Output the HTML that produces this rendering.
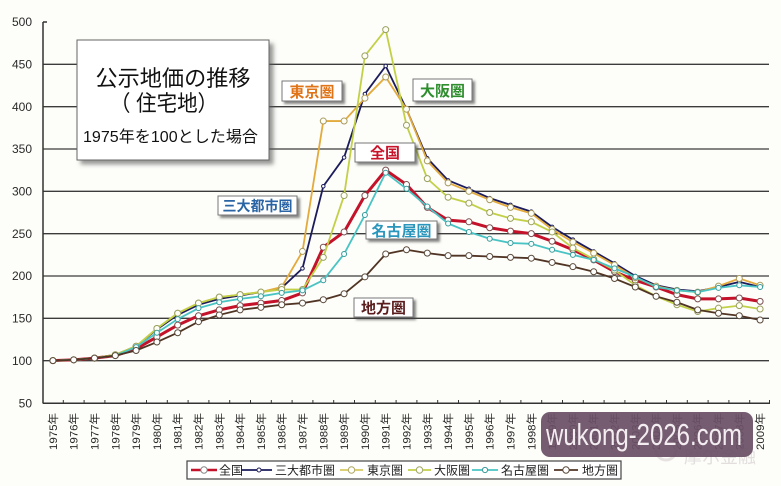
<!DOCTYPE html>
<html><head><meta charset="utf-8">
<style>
html,body{margin:0;padding:0;background:#fdfdf9;}
svg{display:block;font-family:"Liberation Sans","Noto Sans CJK JP",sans-serif;}
</style></head>
<body>
<svg width="781" height="486" viewBox="0 0 781 486" xmlns="http://www.w3.org/2000/svg">
<defs>
<filter id="sh" x="-20%" y="-20%" width="150%" height="160%"><feDropShadow dx="2.5" dy="2.5" stdDeviation="1.2" flood-color="#444" flood-opacity="0.65"/></filter>
<filter id="sh2" x="-10%" y="-10%" width="130%" height="130%"><feDropShadow dx="4" dy="4" stdDeviation="2" flood-color="#555" flood-opacity="0.6"/></filter>
</defs>
<rect width="781" height="486" fill="#fdfdf9"/>

<!-- gridlines -->
<g stroke="#3c3c3c" stroke-width="1.3">
<line x1="43" y1="64.3" x2="769" y2="64.3"/>
<line x1="43" y1="106.7" x2="769" y2="106.7"/>
<line x1="43" y1="149" x2="769" y2="149"/>
<line x1="43" y1="191.3" x2="769" y2="191.3"/>
<line x1="43" y1="233.7" x2="769" y2="233.7"/>
<line x1="43" y1="276" x2="769" y2="276"/>
<line x1="43" y1="318.3" x2="769" y2="318.3"/>
<line x1="43" y1="360.7" x2="769" y2="360.7"/>
</g>
<!-- axes -->
<g stroke="#333" stroke-width="1.5">
<line x1="43" y1="22" x2="43" y2="403.5"/>
<line x1="43" y1="403.3" x2="770" y2="403.3"/>
<line x1="43" y1="22" x2="47" y2="22"/>
</g>
<g stroke="#333" stroke-width="1">
<path d="M63.3 400v4M84.1 400v4M104.9 400v4M125.7 400v4M146.5 400v4M167.3 400v4M188.1 400v4M208.9 400v4M229.7 400v4M250.5 400v4M271.3 400v4M292.1 400v4M312.9 400v4M333.7 400v4M354.5 400v4M375.3 400v4M396.1 400v4M416.9 400v4M437.7 400v4M458.5 400v4M479.3 400v4M500.1 400v4M520.9 400v4M541.7 400v4M562.5 400v4M583.3 400v4M604.1 400v4M624.9 400v4M645.7 400v4M666.5 400v4M687.3 400v4M708.1 400v4M728.9 400v4M749.7 400v4M769.5 400v4"/>
</g>

<!-- y labels -->
<g font-size="12" fill="#2a2a2a" text-anchor="end">
<text x="32" y="26">500</text>
<text x="32" y="68.5">450</text>
<text x="32" y="111">400</text>
<text x="32" y="153">350</text>
<text x="32" y="195.5">300</text>
<text x="32" y="238">250</text>
<text x="32" y="280">200</text>
<text x="32" y="322.5">150</text>
<text x="32" y="365">100</text>
<text x="32" y="407.5">50</text>
</g>

<!-- x labels -->
<g font-size="11" fill="#2a2a2a">
<text transform="translate(56.9,450) rotate(-90)" textLength="37" lengthAdjust="spacingAndGlyphs">1975年</text>
<text transform="translate(77.7,450) rotate(-90)" textLength="37" lengthAdjust="spacingAndGlyphs">1976年</text>
<text transform="translate(98.5,450) rotate(-90)" textLength="37" lengthAdjust="spacingAndGlyphs">1977年</text>
<text transform="translate(119.3,450) rotate(-90)" textLength="37" lengthAdjust="spacingAndGlyphs">1978年</text>
<text transform="translate(140.1,450) rotate(-90)" textLength="37" lengthAdjust="spacingAndGlyphs">1979年</text>
<text transform="translate(160.9,450) rotate(-90)" textLength="37" lengthAdjust="spacingAndGlyphs">1980年</text>
<text transform="translate(181.7,450) rotate(-90)" textLength="37" lengthAdjust="spacingAndGlyphs">1981年</text>
<text transform="translate(202.5,450) rotate(-90)" textLength="37" lengthAdjust="spacingAndGlyphs">1982年</text>
<text transform="translate(223.3,450) rotate(-90)" textLength="37" lengthAdjust="spacingAndGlyphs">1983年</text>
<text transform="translate(244.1,450) rotate(-90)" textLength="37" lengthAdjust="spacingAndGlyphs">1984年</text>
<text transform="translate(264.9,450) rotate(-90)" textLength="37" lengthAdjust="spacingAndGlyphs">1985年</text>
<text transform="translate(285.7,450) rotate(-90)" textLength="37" lengthAdjust="spacingAndGlyphs">1986年</text>
<text transform="translate(306.5,450) rotate(-90)" textLength="37" lengthAdjust="spacingAndGlyphs">1987年</text>
<text transform="translate(327.3,450) rotate(-90)" textLength="37" lengthAdjust="spacingAndGlyphs">1988年</text>
<text transform="translate(348.1,450) rotate(-90)" textLength="37" lengthAdjust="spacingAndGlyphs">1989年</text>
<text transform="translate(368.9,450) rotate(-90)" textLength="37" lengthAdjust="spacingAndGlyphs">1990年</text>
<text transform="translate(389.7,450) rotate(-90)" textLength="37" lengthAdjust="spacingAndGlyphs">1991年</text>
<text transform="translate(410.5,450) rotate(-90)" textLength="37" lengthAdjust="spacingAndGlyphs">1992年</text>
<text transform="translate(431.3,450) rotate(-90)" textLength="37" lengthAdjust="spacingAndGlyphs">1993年</text>
<text transform="translate(452.1,450) rotate(-90)" textLength="37" lengthAdjust="spacingAndGlyphs">1994年</text>
<text transform="translate(472.9,450) rotate(-90)" textLength="37" lengthAdjust="spacingAndGlyphs">1995年</text>
<text transform="translate(493.7,450) rotate(-90)" textLength="37" lengthAdjust="spacingAndGlyphs">1996年</text>
<text transform="translate(514.5,450) rotate(-90)" textLength="37" lengthAdjust="spacingAndGlyphs">1997年</text>
<text transform="translate(535.3,450) rotate(-90)" textLength="37" lengthAdjust="spacingAndGlyphs">1998年</text>
<text transform="translate(556.1,450) rotate(-90)" textLength="37" lengthAdjust="spacingAndGlyphs">1999年</text>
<text transform="translate(576.9,450) rotate(-90)" textLength="37" lengthAdjust="spacingAndGlyphs">2000年</text>
<text transform="translate(597.7,450) rotate(-90)" textLength="37" lengthAdjust="spacingAndGlyphs">2001年</text>
<text transform="translate(618.5,450) rotate(-90)" textLength="37" lengthAdjust="spacingAndGlyphs">2002年</text>
<text transform="translate(639.3,450) rotate(-90)" textLength="37" lengthAdjust="spacingAndGlyphs">2003年</text>
<text transform="translate(660.1,450) rotate(-90)" textLength="37" lengthAdjust="spacingAndGlyphs">2004年</text>
<text transform="translate(680.9,450) rotate(-90)" textLength="37" lengthAdjust="spacingAndGlyphs">2005年</text>
<text transform="translate(701.7,450) rotate(-90)" textLength="37" lengthAdjust="spacingAndGlyphs">2006年</text>
<text transform="translate(722.5,450) rotate(-90)" textLength="37" lengthAdjust="spacingAndGlyphs">2007年</text>
<text transform="translate(743.3,450) rotate(-90)" textLength="37" lengthAdjust="spacingAndGlyphs">2008年</text>
<text transform="translate(764.1,450) rotate(-90)" textLength="37" lengthAdjust="spacingAndGlyphs">2009年</text>
</g>

<!-- series (data coordinates: x = year index, y = index value) -->
<g transform="matrix(20.8 0 0 -0.8467 52.9 445.33)" fill="none" stroke-linejoin="round">
<!-- 全国 -->
<polyline vector-effect="non-scaling-stroke" stroke="#c4122a" stroke-width="3" points="0,100 1,101 2,103 3,106 4,114 5,128 6,142 7,153 8,160 9,165 10,168 11,171 12,180 13,234 14,252 15,295 16,325 17,308 18,281 19,266 20,264 21,257 22,253 23,250 24,241 25,231 26,219 27,205 28,195 29,187 30,178 31,173 32,173 33,174 34,170"/>
<path vector-effect="non-scaling-stroke" stroke="#7a5050" stroke-width="7" stroke-linecap="round" d="M0 100h0M1 101h0M2 103h0M3 106h0M4 114h0M5 128h0M6 142h0M7 153h0M8 160h0M9 165h0M10 168h0M11 171h0M12 180h0M13 234h0M14 252h0M15 295h0M16 325h0M17 308h0M18 281h0M19 266h0M20 264h0M21 257h0M22 253h0M23 250h0M24 241h0M25 231h0M26 219h0M27 205h0M28 195h0M29 187h0M30 178h0M31 173h0M32 173h0M33 174h0M34 170h0"/>
<path vector-effect="non-scaling-stroke" stroke="#ffffff" stroke-width="5" stroke-linecap="round" d="M0 100h0M1 101h0M2 103h0M3 106h0M4 114h0M5 128h0M6 142h0M7 153h0M8 160h0M9 165h0M10 168h0M11 171h0M12 180h0M13 234h0M14 252h0M15 295h0M16 325h0M17 308h0M18 281h0M19 266h0M20 264h0M21 257h0M22 253h0M23 250h0M24 241h0M25 231h0M26 219h0M27 205h0M28 195h0M29 187h0M30 178h0M31 173h0M32 173h0M33 174h0M34 170h0"/>

<!-- 三大都市圏 -->
<polyline vector-effect="non-scaling-stroke" stroke="#1c1c5c" stroke-width="1.8" points="0,100 1,101 2,103 3,107 4,117 5,137 6,154 7,166 8,173 9,177 10,181 11,186 12,209 13,306 14,340 15,415 16,448 17,397 18,339 19,313 20,303 21,292 22,284 23,276 24,258 25,243 26,229 27,215 28,200 29,189 30,184 31,182 32,187 33,193 34,187"/>
<path vector-effect="non-scaling-stroke" stroke="#1c1c5c" stroke-width="4.5" stroke-linecap="round" d="M0 100h0M1 101h0M2 103h0M3 107h0M4 117h0M5 137h0M6 154h0M7 166h0M8 173h0M9 177h0M10 181h0M11 186h0M12 209h0M13 306h0M14 340h0M15 415h0M16 448h0M17 397h0M18 339h0M19 313h0M20 303h0M21 292h0M22 284h0M23 276h0M24 258h0M25 243h0M26 229h0M27 215h0M28 200h0M29 189h0M30 184h0M31 182h0M32 187h0M33 193h0M34 187h0"/>
<path vector-effect="non-scaling-stroke" stroke="#ffffff" stroke-width="2.5" stroke-linecap="round" d="M0 100h0M1 101h0M2 103h0M3 107h0M4 117h0M5 137h0M6 154h0M7 166h0M8 173h0M9 177h0M10 181h0M11 186h0M12 209h0M13 306h0M14 340h0M15 415h0M16 448h0M17 397h0M18 339h0M19 313h0M20 303h0M21 292h0M22 284h0M23 276h0M24 258h0M25 243h0M26 229h0M27 215h0M28 200h0M29 189h0M30 184h0M31 182h0M32 187h0M33 193h0M34 187h0"/>

<!-- 東京圏 -->
<polyline vector-effect="non-scaling-stroke" stroke="#e3aa3c" stroke-width="1.8" points="0,100 1,101 2,103 3,107 4,117 5,138 6,156 7,168 8,175 9,178 10,181 11,187 12,229 13,383 14,383 15,410 16,435 17,397 18,336 19,310 20,300 21,290 22,281 23,274 24,255 25,240 26,227 27,213 28,198 29,188 30,183 31,181 32,188 33,197 34,189"/>
<path vector-effect="non-scaling-stroke" stroke="#a89a60" stroke-width="7" stroke-linecap="round" d="M0 100h0M1 101h0M2 103h0M3 107h0M4 117h0M5 138h0M6 156h0M7 168h0M8 175h0M9 178h0M10 181h0M11 187h0M12 229h0M13 383h0M14 383h0M15 410h0M16 435h0M17 397h0M18 336h0M19 310h0M20 300h0M21 290h0M22 281h0M23 274h0M24 255h0M25 240h0M26 227h0M27 213h0M28 198h0M29 188h0M30 183h0M31 181h0M32 188h0M33 197h0M34 189h0"/>
<path vector-effect="non-scaling-stroke" stroke="#fffff6" stroke-width="5" stroke-linecap="round" d="M0 100h0M1 101h0M2 103h0M3 107h0M4 117h0M5 138h0M6 156h0M7 168h0M8 175h0M9 178h0M10 181h0M11 187h0M12 229h0M13 383h0M14 383h0M15 410h0M16 435h0M17 397h0M18 336h0M19 310h0M20 300h0M21 290h0M22 281h0M23 274h0M24 255h0M25 240h0M26 227h0M27 213h0M28 198h0M29 188h0M30 183h0M31 181h0M32 188h0M33 197h0M34 189h0"/>

<!-- 大阪圏 -->
<polyline vector-effect="non-scaling-stroke" stroke="#c2d048" stroke-width="1.8" points="0,100 1,101 2,103 3,107 4,117 5,138 6,156 7,168 8,175 9,178 10,181 11,184 12,184 13,222 14,295 15,460 16,491 17,378 18,315 19,293 20,286 21,275 22,268 23,264 24,252 25,233 26,220 27,207 28,189 29,176 30,166 31,158 32,162 33,165 34,161"/>
<path vector-effect="non-scaling-stroke" stroke="#9aa060" stroke-width="7" stroke-linecap="round" d="M0 100h0M1 101h0M2 103h0M3 107h0M4 117h0M5 138h0M6 156h0M7 168h0M8 175h0M9 178h0M10 181h0M11 184h0M12 184h0M13 222h0M14 295h0M15 460h0M16 491h0M17 378h0M18 315h0M19 293h0M20 286h0M21 275h0M22 268h0M23 264h0M24 252h0M25 233h0M26 220h0M27 207h0M28 189h0M29 176h0M30 166h0M31 158h0M32 162h0M33 165h0M34 161h0"/>
<path vector-effect="non-scaling-stroke" stroke="#fffff6" stroke-width="5" stroke-linecap="round" d="M0 100h0M1 101h0M2 103h0M3 107h0M4 117h0M5 138h0M6 156h0M7 168h0M8 175h0M9 178h0M10 181h0M11 184h0M12 184h0M13 222h0M14 295h0M15 460h0M16 491h0M17 378h0M18 315h0M19 293h0M20 286h0M21 275h0M22 268h0M23 264h0M24 252h0M25 233h0M26 220h0M27 207h0M28 189h0M29 176h0M30 166h0M31 158h0M32 162h0M33 165h0M34 161h0"/>

<!-- 名古屋圏 -->
<polyline vector-effect="non-scaling-stroke" stroke="#48c4c4" stroke-width="1.8" points="0,100 1,101 2,103 3,106 4,116 5,133 6,149 7,162 8,169 9,173 10,176 11,180 12,183 13,195 14,226 15,272 16,322 17,303 18,282 19,262 20,252 21,244 22,239 23,238 24,231 25,225 26,219 27,209 28,199 29,187 30,183 31,181 32,186 33,189 34,187"/>
<path vector-effect="non-scaling-stroke" stroke="#3a9a9a" stroke-width="6" stroke-linecap="round" d="M0 100h0M1 101h0M2 103h0M3 106h0M4 116h0M5 133h0M6 149h0M7 162h0M8 169h0M9 173h0M10 176h0M11 180h0M12 183h0M13 195h0M14 226h0M15 272h0M16 322h0M17 303h0M18 282h0M19 262h0M20 252h0M21 244h0M22 239h0M23 238h0M24 231h0M25 225h0M26 219h0M27 209h0M28 199h0M29 187h0M30 183h0M31 181h0M32 186h0M33 189h0M34 187h0"/>
<path vector-effect="non-scaling-stroke" stroke="#f4ffff" stroke-width="4" stroke-linecap="round" d="M0 100h0M1 101h0M2 103h0M3 106h0M4 116h0M5 133h0M6 149h0M7 162h0M8 169h0M9 173h0M10 176h0M11 180h0M12 183h0M13 195h0M14 226h0M15 272h0M16 322h0M17 303h0M18 282h0M19 262h0M20 252h0M21 244h0M22 239h0M23 238h0M24 231h0M25 225h0M26 219h0M27 209h0M28 199h0M29 187h0M30 183h0M31 181h0M32 186h0M33 189h0M34 187h0"/>

<!-- 地方圏 -->
<polyline vector-effect="non-scaling-stroke" stroke="#503424" stroke-width="1.8" points="0,100 1,101 2,103 3,106 4,112 5,122 6,133 7,146 8,154 9,160 10,163 11,166 12,168 13,172 14,179 15,199 16,226 17,231 18,227 19,224 20,224 21,223 22,222 23,221 24,216 25,211 26,205 27,197 28,187 29,176 30,169 31,160 32,156 33,153 34,148"/>
<path vector-effect="non-scaling-stroke" stroke="#5a4a3a" stroke-width="7" stroke-linecap="round" d="M0 100h0M1 101h0M2 103h0M3 106h0M4 112h0M5 122h0M6 133h0M7 146h0M8 154h0M9 160h0M10 163h0M11 166h0M12 168h0M13 172h0M14 179h0M15 199h0M16 226h0M17 231h0M18 227h0M19 224h0M20 224h0M21 223h0M22 222h0M23 221h0M24 216h0M25 211h0M26 205h0M27 197h0M28 187h0M29 176h0M30 169h0M31 160h0M32 156h0M33 153h0M34 148h0"/>
<path vector-effect="non-scaling-stroke" stroke="#ffffff" stroke-width="5" stroke-linecap="round" d="M0 100h0M1 101h0M2 103h0M3 106h0M4 112h0M5 122h0M6 133h0M7 146h0M8 154h0M9 160h0M10 163h0M11 166h0M12 168h0M13 172h0M14 179h0M15 199h0M16 226h0M17 231h0M18 227h0M19 224h0M20 224h0M21 223h0M22 222h0M23 221h0M24 216h0M25 211h0M26 205h0M27 197h0M28 187h0M29 176h0M30 169h0M31 160h0M32 156h0M33 153h0M34 148h0"/>
</g>

<!-- title box -->
<rect x="77" y="40" width="192" height="120" fill="#ffffff" stroke="#666" stroke-width="1" filter="url(#sh2)"/>
<g fill="#111" text-anchor="middle">
<text x="173" y="86" font-size="22" textLength="155" lengthAdjust="spacingAndGlyphs">公示地価の推移</text>
<text x="164" y="111" font-size="22" textLength="108" lengthAdjust="spacingAndGlyphs">（ 住宅地）</text>
<text x="170.5" y="142" font-size="16" textLength="175" lengthAdjust="spacingAndGlyphs">1975年を100とした場合</text>
</g>

<!-- series label boxes -->
<g font-size="15" font-weight="bold" text-anchor="middle">
<rect x="282" y="81" width="60" height="20" fill="#fff" stroke="#777" filter="url(#sh)"/>
<text x="312" y="97" fill="#e07418">東京圏</text>
<rect x="413" y="79" width="59" height="22" fill="#fff" stroke="#777" filter="url(#sh)"/>
<text x="442.5" y="96" fill="#2e8e2e">大阪圏</text>
<rect x="355" y="143" width="60" height="19" fill="#fff" stroke="#777" filter="url(#sh)"/>
<text x="385" y="158" fill="#c8142a">全国</text>
<rect x="218" y="196" width="79" height="19" fill="#fff" stroke="#777" filter="url(#sh)"/>
<text x="257.5" y="211" fill="#2a64a4" font-size="14">三大都市圏</text>
<rect x="366" y="221" width="71" height="18" fill="#fff" stroke="#777" filter="url(#sh)"/>
<text x="401.5" y="236" fill="#2a96bc">名古屋圏</text>
<rect x="354" y="298" width="59" height="19" fill="#fff" stroke="#777" filter="url(#sh)"/>
<text x="383.5" y="313" fill="#5a1c1c">地方圏</text>
</g>

<!-- legend -->
<rect x="187" y="461" width="434" height="18" fill="#fff" stroke="#444" stroke-width="1.2"/>
<g font-size="12" fill="#222">
<line x1="191" y1="470" x2="217" y2="470" stroke="#c4122a" stroke-width="2.5"/>
<circle cx="204" cy="470" r="3.2" fill="#fff" stroke="#888"/>
<text x="219" y="474.5">全国</text>
<line x1="241" y1="470" x2="272" y2="470" stroke="#1c1c5c" stroke-width="1.8"/>
<circle cx="259" cy="470" r="2" fill="#fff" stroke="#1c1c5c"/>
<text x="275" y="474.5">三大都市圏</text>
<line x1="340" y1="470" x2="363" y2="470" stroke="#d8c860" stroke-width="1.8"/>
<circle cx="351.5" cy="470" r="3.2" fill="#fff" stroke="#b0a860"/>
<text x="367" y="474.5">東京圏</text>
<line x1="408" y1="470" x2="431" y2="470" stroke="#c2d048" stroke-width="1.8"/>
<circle cx="419.5" cy="470" r="3.2" fill="#fff" stroke="#a0a860"/>
<text x="434" y="474.5">大阪圏</text>
<line x1="472" y1="470" x2="498" y2="470" stroke="#48c4c4" stroke-width="1.8"/>
<circle cx="485" cy="470" r="2.6" fill="#fff" stroke="#3a9a9a"/>
<text x="501" y="474.5">名古屋圏</text>
<line x1="554" y1="470" x2="578" y2="470" stroke="#503424" stroke-width="1.8"/>
<circle cx="566" cy="470" r="3.2" fill="#fff" stroke="#5a4a3a"/>
<text x="582" y="474.5">地方圏</text>
</g>

<!-- faint watermark -->
<circle cx="666" cy="450" r="10" fill="none" stroke="#e6e2e2" stroke-width="3"/>
<text x="684" y="463" font-size="18" fill="#e2dede" font-family="Liberation Sans,Noto Sans CJK SC,sans-serif">摩尔金融</text>

<!-- watermark box -->
<rect x="541" y="412" width="212" height="45" rx="9" fill="#6b5065" fill-opacity="0.93"/>
<text x="546" y="445" font-size="31" fill="#f3edf1" textLength="196" lengthAdjust="spacingAndGlyphs">wukong-2026.com</text>
</svg>
</body></html>
